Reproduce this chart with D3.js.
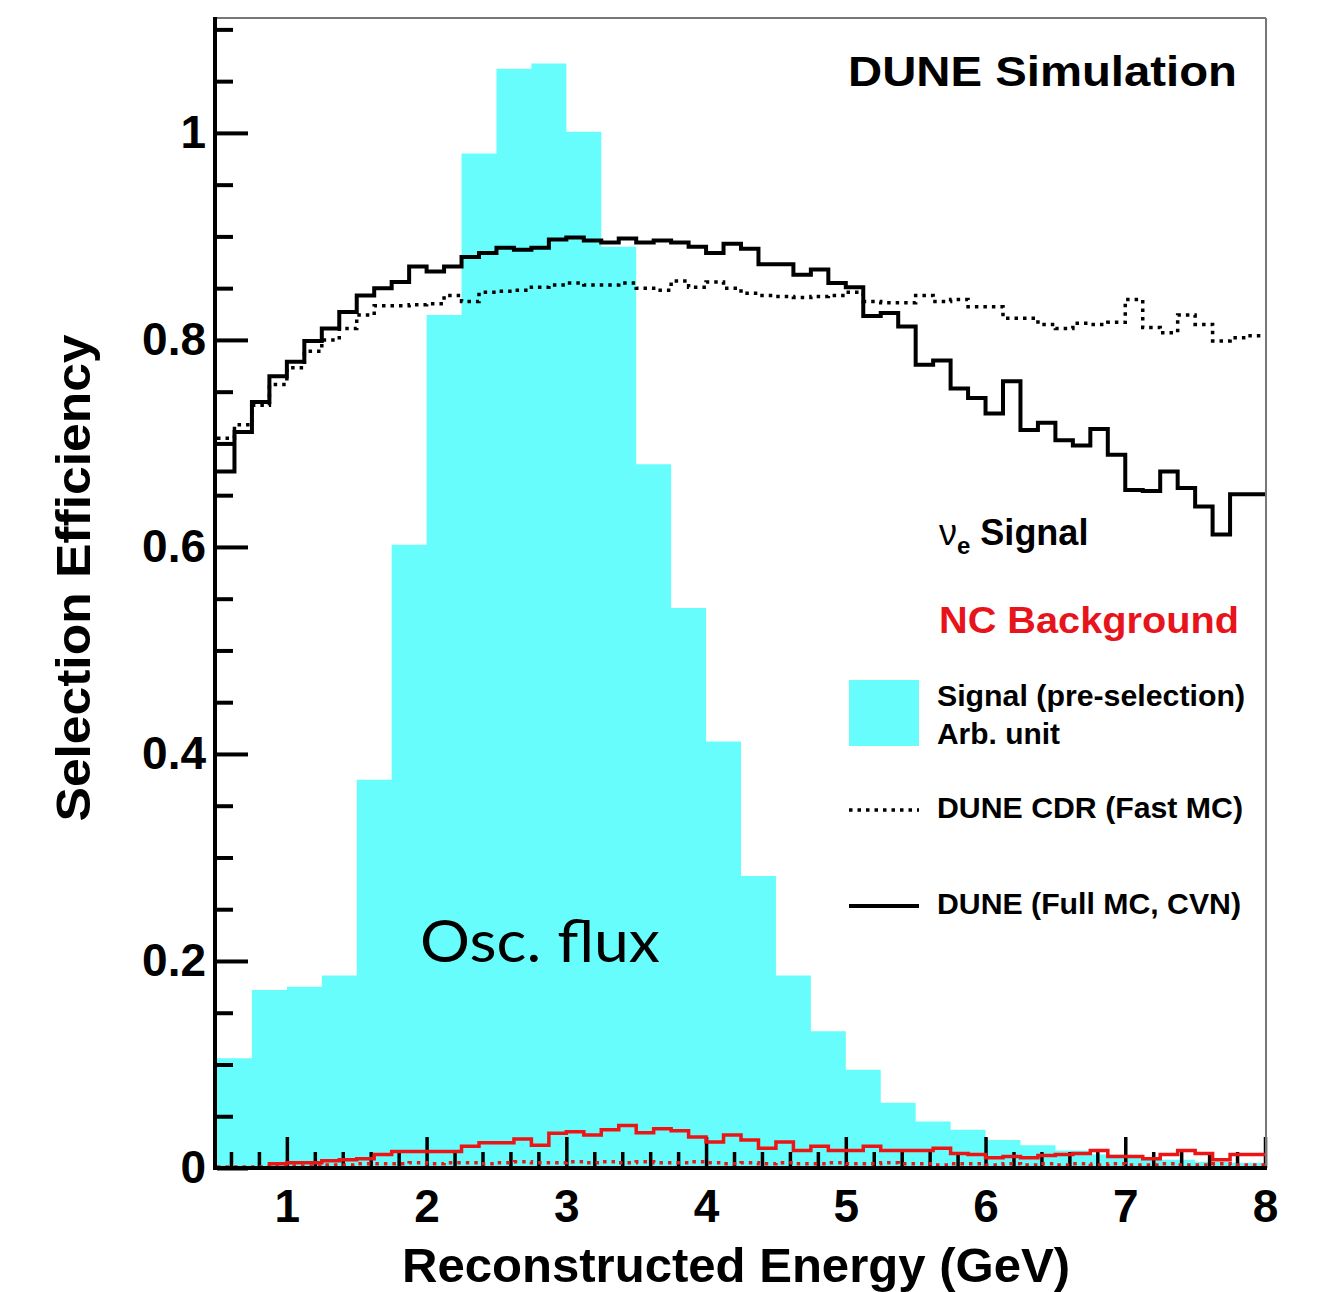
<!DOCTYPE html>
<html><head><meta charset="utf-8">
<script src="https://cdn.jsdelivr.net/npm/d3@7"></script>
<style>body{margin:0;background:#fff}svg{display:block}</style>
</head><body>
<svg id="chart" width="1327" height="1292"></svg>
<script>
// ---------- data ----------
const xTickLabels = [1, 2, 3, 4, 5, 6, 7, 8];
const yTickLabels = [0, 0.2, 0.4, 0.6, 0.8, 1];
// Oscillated flux (pre-selection signal, arb. units), 0.25 GeV bins from 0.5 GeV
const fluxLow = 0.5, fluxWidth = 0.25;
const oscFlux = [0.106, 0.172, 0.175, 0.186, 0.375, 0.602, 0.824, 0.980, 1.062, 1.067,
  1.001, 0.890, 0.680, 0.541, 0.412, 0.282, 0.186, 0.132, 0.095, 0.063,
  0.045, 0.037, 0.027, 0.022, 0.017, 0.013, 0.010, 0.008, 0.006, 0.005];
// Efficiency curves, 0.125 GeV bins from 0.5 GeV
const effLow = 0.5, effWidth = 0.125;
const fullMCSignal = [0.673, 0.711, 0.740, 0.765, 0.779, 0.799, 0.811, 0.827, 0.843, 0.850,
  0.856, 0.871, 0.866, 0.871, 0.880, 0.884, 0.889, 0.887, 0.889, 0.897,
  0.899, 0.896, 0.894, 0.898, 0.894, 0.896, 0.894, 0.890, 0.884, 0.893,
  0.888, 0.873, 0.873, 0.863, 0.868, 0.855, 0.851, 0.823, 0.826, 0.813,
  0.776, 0.780, 0.753, 0.744, 0.729, 0.760, 0.713, 0.720, 0.703, 0.698,
  0.714, 0.689, 0.655, 0.654, 0.673, 0.657, 0.639, 0.612, 0.651, 0.651];
const fastMCSignal = [0.705, 0.718, 0.737, 0.757, 0.773, 0.789, 0.800, 0.811, 0.824, 0.833,
  0.833, 0.834, 0.835, 0.843, 0.837, 0.846, 0.847, 0.848, 0.851, 0.853,
  0.855, 0.853, 0.853, 0.855, 0.850, 0.848, 0.857, 0.851, 0.856, 0.850,
  0.845, 0.843, 0.842, 0.841, 0.842, 0.843, 0.846, 0.837, 0.836, 0.836,
  0.843, 0.837, 0.839, 0.832, 0.832, 0.821, 0.821, 0.815, 0.811, 0.816,
  0.815, 0.817, 0.839, 0.812, 0.807, 0.824, 0.815, 0.799, 0.802, 0.804];
const fullMCNC = [0, 0, 0, 0.004, 0.005, 0.005, 0.007, 0.008, 0.009, 0.013,
  0.016, 0.016, 0.016, 0.016, 0.021, 0.0245, 0.0245, 0.028, 0.022, 0.0335,
  0.035, 0.032, 0.037, 0.041, 0.034, 0.038, 0.036, 0.030, 0.025, 0.032,
  0.027, 0.019, 0.025, 0.017, 0.021, 0.017, 0.017, 0.021, 0.017, 0.017,
  0.017, 0.019, 0.014, 0.013, 0.010, 0.011, 0.010, 0.012, 0.013, 0.014,
  0.017, 0.011, 0.011, 0.009, 0.013, 0.017, 0.014, 0.008, 0.013, 0.013];
const fastMCNC = [0.001, 0.001, 0.001, 0.002, 0.002, 0.002, 0.003, 0.003, 0.004, 0.004,
  0.004, 0.005, 0.004, 0.005, 0.005, 0.004, 0.005, 0.006, 0.005, 0.005,
  0.006, 0.005, 0.006, 0.005, 0.006, 0.005, 0.005, 0.006, 0.005, 0.004,
  0.005, 0.004, 0.005, 0.004, 0.004, 0.005, 0.004, 0.004, 0.005, 0.004,
  0.004, 0.003, 0.004, 0.004, 0.003, 0.004, 0.003, 0.004, 0.003, 0.004,
  0.003, 0.004, 0.003, 0.003, 0.004, 0.003, 0.003, 0.004, 0.003, 0.003];

// ---------- layout ----------
const svg = d3.select('#chart');
const L = 217, R = 1265, T = 18, B = 1168;
const x = d3.scaleLinear().domain([0.5, 8]).range([L, R]);
const y = d3.scaleLinear().domain([0, 1.111]).range([B, T]);
const FONT = "'Liberation Sans', Arial, Helvetica, sans-serif";

function stepPoints(vals, low, width) {
  const pts = vals.map((v, i) => [low + i * width, v]);
  pts.push([low + vals.length * width, vals[vals.length - 1]]);
  return pts;
}

// cyan flux histogram
const area = d3.area().curve(d3.curveStepAfter)
  .x(d => x(d[0])).y0(y(0)).y1(d => y(d[1]));
svg.append('path').datum(stepPoints(oscFlux, fluxLow, fluxWidth))
  .attr('d', area).attr('fill', '#68fdfd');

// ticks
const xMinor = d3.range(0.6, 8.0001, 0.2).filter(v => Math.abs(v - Math.round(v)) > 1e-6);
const yMinor = d3.range(0.05, 1.1001, 0.05).filter(v => Math.abs(v * 5 - Math.round(v * 5)) > 1e-6);

const gx = svg.append('g').attr('transform', `translate(0,${B})`);
gx.call(d3.axisBottom(x).tickValues(xMinor).tickSize(-16).tickFormat(''));
gx.call(g => g.selectAll('.tick line').attr('stroke-width', 3.5).attr('stroke', '#000'));
gx.select('.domain').remove();
const gx2 = svg.append('g').attr('transform', `translate(0,${B})`);
gx2.call(d3.axisBottom(x).tickValues(xTickLabels).tickSize(-31).tickPadding(21).tickFormat(d3.format('d')));
gx2.select('.domain').remove();
gx2.selectAll('.tick line').attr('stroke-width', 3.5).attr('stroke', '#000');
gx2.selectAll('.tick text').attr('font-family', FONT).attr('font-weight', 'bold')
  .attr('font-size', 46).attr('fill', '#000');

const gy = svg.append('g').attr('transform', `translate(${L},0)`);
gy.call(d3.axisLeft(y).tickValues(yMinor).tickSize(-16).tickFormat(''));
gy.select('.domain').remove();
gy.selectAll('.tick line').attr('stroke-width', 4).attr('stroke', '#000');
const gy2 = svg.append('g').attr('transform', `translate(${L},0)`);
gy2.call(d3.axisLeft(y).tickValues(yTickLabels).tickSize(-31).tickPadding(11).tickFormat(d => String(d)));
gy2.select('.domain').remove();
gy2.selectAll('.tick line').attr('stroke-width', 4).attr('stroke', '#000');
gy2.selectAll('.tick text').attr('font-family', FONT).attr('font-weight', 'bold')
  .attr('font-size', 46).attr('fill', '#000');

// efficiency step lines
const line = d3.line().curve(d3.curveStepAfter).x(d => x(d[0])).y(d => y(d[1]));
svg.append('path').datum(stepPoints(fastMCNC, effLow, effWidth)).attr('d', line)
  .attr('fill', 'none').attr('stroke', '#e81a1a').attr('stroke-width', 3.5).attr('stroke-dasharray', '3.5 5');
svg.append('path').datum(stepPoints(fullMCNC, effLow, effWidth)).attr('d', line)
  .attr('fill', 'none').attr('stroke', '#ec1515').attr('stroke-width', 3.5);
svg.append('path').datum(stepPoints(fastMCSignal, effLow, effWidth)).attr('d', line)
  .attr('fill', 'none').attr('stroke', '#000').attr('stroke-width', 3.5).attr('stroke-dasharray', '3.5 5');
svg.append('path').datum(stepPoints(fullMCSignal, effLow, effWidth)).attr('d', line)
  .attr('fill', 'none').attr('stroke', '#000').attr('stroke-width', 4);

// frame
svg.append('line').attr('x1', L - 2).attr('x2', R + 1).attr('y1', T).attr('y2', T)
  .attr('stroke', '#777').attr('stroke-width', 2);
svg.append('line').attr('x1', R + 1).attr('x2', R + 1).attr('y1', T).attr('y2', B)
  .attr('stroke', '#777').attr('stroke-width', 2);
svg.append('line').attr('x1', L - 2).attr('x2', L - 2).attr('y1', T - 1).attr('y2', B + 2)
  .attr('stroke', '#000').attr('stroke-width', 4);
svg.append('line').attr('x1', L - 4).attr('x2', R + 2).attr('y1', B).attr('y2', B)
  .attr('stroke', '#000').attr('stroke-width', 4);

// titles
function txt(s, xx, yy, size, opts = {}) {
  const t = svg.append('text').attr('x', xx).attr('y', yy).text(s)
    .attr('font-family', opts.family || FONT).attr('font-weight', opts.weight || 'bold')
    .attr('font-size', size).attr('fill', opts.fill || '#000')
    .attr('text-anchor', opts.anchor || 'start');
  if (opts.len) t.attr('textLength', opts.len).attr('lengthAdjust', 'spacingAndGlyphs');
  if (opts.rotate) t.attr('transform', `rotate(${opts.rotate},${xx},${yy})`);
  return t;
}
txt('Reconstructed Energy (GeV)', 736, 1282, 48, { anchor: 'middle', len: 668 });
txt('Selection Efficiency', 90, 578, 48, { anchor: 'middle', len: 487, rotate: -90 });
txt('DUNE Simulation', 848, 86, 42, { len: 389 });
txt('Osc. flux', 420, 962, 58, { family: "Lato, 'Open Sans', sans-serif", weight: 'normal', len: 240 });

// legend
const nu = svg.append('text').attr('x', 939).attr('y', 545)
  .attr('font-family', FONT).attr('font-size', 36).attr('fill', '#000');
nu.append('tspan').text('ν').attr('font-weight', 'normal');
nu.append('tspan').text('e').attr('font-size', 24).attr('font-weight', 'bold').attr('dy', 9);
nu.append('tspan').text(' Signal').attr('font-weight', 'bold').attr('dy', -9);
txt('NC Background', 939, 633, 36, { fill: '#e8141b', len: 300 });
svg.append('rect').attr('x', 849).attr('y', 680).attr('width', 70).attr('height', 66).attr('fill', '#68fdfd');
txt('Signal (pre-selection)', 937, 706, 30, { len: 308 });
txt('Arb. unit', 937, 744, 30, { len: 123 });
svg.append('line').attr('x1', 849).attr('x2', 919).attr('y1', 810).attr('y2', 810)
  .attr('stroke', '#000').attr('stroke-width', 3.5).attr('stroke-dasharray', '3.5 5');
txt('DUNE CDR (Fast MC)', 937, 818, 30, { len: 306 });
svg.append('line').attr('x1', 849).attr('x2', 919).attr('y1', 906).attr('y2', 906)
  .attr('stroke', '#000').attr('stroke-width', 4);
txt('DUNE (Full MC, CVN)', 937, 914, 30, { len: 304 });
</script>
</body></html>
